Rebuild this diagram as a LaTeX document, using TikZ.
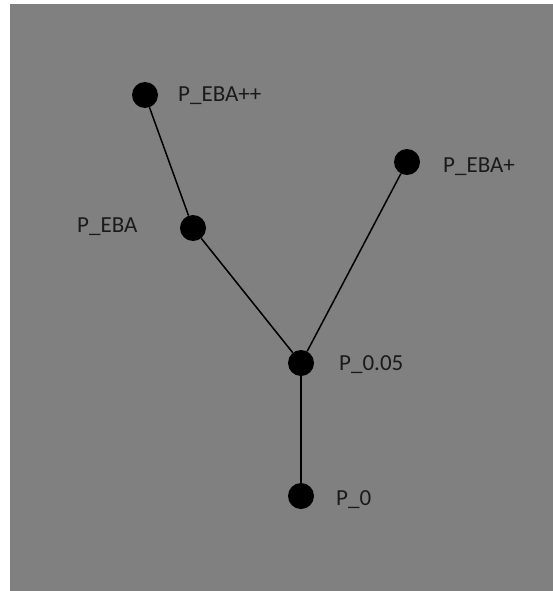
\documentclass[tikz,border=0pt]{standalone}
\usepackage{fontspec}
\setmainfont{Carlito}
\usepackage{xcolor}
\definecolor{panelgray}{HTML}{808080}
\definecolor{dotblack}{HTML}{000000}
\definecolor{lbltext}{HTML}{1A1A1A}
\usetikzlibrary{positioning}
\tikzset{
  pdot/.style ={circle, fill=dotblack, minimum size=26pt, inner sep=0pt},
  plbl/.style ={anchor=base west, inner sep=0pt, text=lbltext, font=\fontsize{23}{27}\selectfont},
  pedge/.style={line width=1.5pt, color=dotblack},
}
\begin{document}
\begin{tikzpicture}[x=1pt, y=-1pt]
  \useasboundingbox (0,0) rectangle (553,591);
  \fill[panelgray] (10,4) rectangle (553,591);
  \node[pdot] (pebapp) at (145,95) {};
  \node[pdot] (peba)   at (193,228) {};
  \node[pdot] (pebap)  at (407,162) {};
  \node[pdot] (p005)   at (301,363) {};
  \node[pdot] (p0)     at (301,496) {};
  \node[plbl] (lpebapp) at (178,102) {P\_EBA++};
  \node[plbl] (lpeba)   at (77,232)  {P\_EBA};
  \node[plbl] (lpebap)  at (443,172) {P\_EBA+};
  \node[plbl] (lp005)   at (339,370) {P\_0.05};
  \node[plbl] (lp0)     at (336,505) {P\_0};
  \draw[pedge] (pebapp) -- (peba); \draw[pedge] (peba) -- (p005);
  \draw[pedge] (pebap) -- (p005); \draw[pedge] (p005) -- (p0);
\end{tikzpicture}
\end{document}
